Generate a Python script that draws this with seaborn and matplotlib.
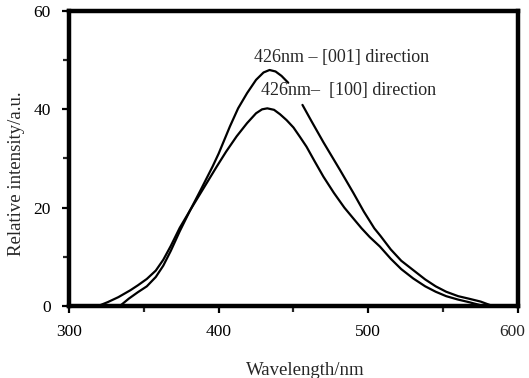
import numpy as np
import pandas as pd
import seaborn as sns
import matplotlib.pyplot as plt
from matplotlib.ticker import MultipleLocator

# [001] direction spectrum (broken where the [100] label sits)
wl_001_a = [334, 340, 346, 352, 358, 363, 368, 374, 381, 388, 396, 400, 407.5, 413, 419,
            425, 430, 434, 438, 442, 446.5]
int_001_a = [0.0, 1.5, 2.8, 4.0, 5.9, 8.2, 11.2, 15.2, 19.5, 23.6, 28.4, 31.0, 36.5, 40.2, 43.3,
             46.0, 47.5, 48.0, 47.7, 46.8, 45.4]
wl_001_b = [456, 462, 470, 481, 490, 497, 504, 508, 515, 522, 530, 538, 545, 552, 560, 567,
            575, 583]
int_001_b = [40.9, 37.6, 33.3, 27.7, 23.0, 19.2, 15.8, 14.3, 11.5, 9.2, 7.3, 5.4, 4.0, 2.9, 2.0,
             1.5, 0.9, 0.0]

# [100] direction spectrum
wl_100 = [319.5, 326, 333, 341, 346, 352, 358, 363, 368, 374, 381, 390, 398.6, 405, 412, 419,
          425, 429, 432.5, 437, 441, 445.4, 450, 454.3, 458.7, 464, 470, 477, 484, 490, 495.5,
          501, 507.7, 515, 522, 530, 538, 545, 552, 560, 567, 574.5]
int_100 = [0.0, 0.8, 1.8, 3.2, 4.2, 5.5, 7.2, 9.4, 12.2, 15.9, 19.5, 24.0, 28.3, 31.4, 34.5, 37.2,
           39.2, 40.0, 40.2, 39.9, 39.0, 37.8, 36.3, 34.4, 32.4, 29.5, 26.3, 23.0, 20.0, 17.8, 15.8,
           14.0, 12.1, 9.6, 7.5, 5.6, 4.0, 2.9, 2.0, 1.3, 0.8, 0.2]

x_ticks = [300, 400, 500, 600]
x_ticklabels = ["300", "400", "500", "600"]
labels = ["426nm \u2013 [001] direction", "426nm\u2013  [100] direction"]

segments = [
    ("001a", wl_001_a, int_001_a),
    ("001b", wl_001_b, int_001_b),
    ("100", wl_100, int_100),
]
df = pd.concat([pd.DataFrame({"wavelength": w, "intensity": v, "segment": s})
                for s, w, v in segments], ignore_index=True)

sns.set_style("ticks")
plt.rcParams['font.family'] = ['Liberation Serif', 'DejaVu Serif']

fig = plt.figure(figsize=(5.29, 3.78), dpi=100)
ax = fig.add_axes([0.1304, 0.1905, 0.8488, 0.7804])

sns.lineplot(data=df, x="wavelength", y="intensity", units="segment", estimator=None,
             color="black", linewidth=1.6, sort=False, ax=ax)

ax.set_xlim(300, 600)
ax.set_ylim(0, 60)
# last label is drawn separately, nudged left so it stays on the canvas
ax.set_xticks(x_ticks, x_ticklabels[:-1] + [""])
ax.xaxis.set_minor_locator(MultipleLocator(50))
ax.yaxis.set_major_locator(MultipleLocator(20))
ax.yaxis.set_minor_locator(MultipleLocator(10))
ax.tick_params(axis="both", which="major", direction="out", length=5, width=1.6,
               labelsize=12.5, colors="black", pad=8)
ax.tick_params(axis="both", which="minor", direction="out", length=4, width=1.6)
ax.annotate(x_ticklabels[-1], xy=(x_ticks[-1], 0), xycoords="data",
            xytext=(-4, -13), textcoords="offset points",
            ha="center", va="top", fontsize=12.5, annotation_clip=False)

for sp in ax.spines.values():
    sp.set_linewidth(3.2)
    sp.set_color("black")

ax.set_xlabel("Wavelength/nm", fontsize=13.5)
ax.set_ylabel("Relative intensity/a.u.", fontsize=13.5)
ax.xaxis.set_label_coords(0.527, -0.189)
ax.yaxis.set_label_coords(-0.098, 0.447)

ax.text(423.6, 49.7, labels[0], fontsize=13, va="baseline", ha="left")
ax.text(428, 42.9, labels[1], fontsize=13, va="baseline", ha="left")

fig.savefig("out.png", dpi=100)
